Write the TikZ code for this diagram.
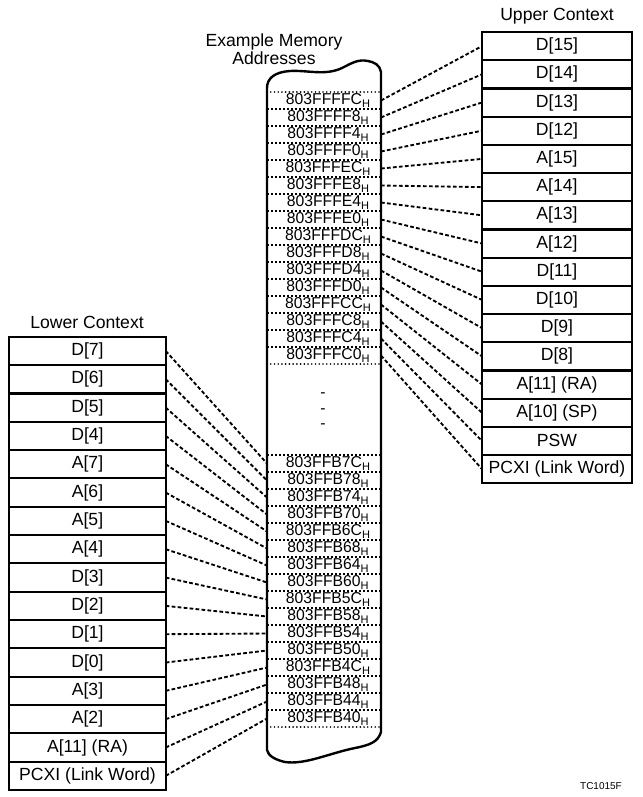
\documentclass[tikz,border=0pt]{standalone}
\usepackage{fontspec}
\setmainfont{Liberation Sans}
\begin{document}
\begin{tikzpicture}[x=0.75pt,y=-0.75pt,
  every node/.style={inner sep=0pt, outer sep=0pt},
  ctx/.style={draw, line width=1.6pt, font=\fontsize{13.2}{15}\selectfont, minimum height=21.2pt},
  upbox/.style={ctx, minimum width=112.5pt},
  lowbox/.style={ctx, minimum width=117.3pt},
  addr/.style={minimum width=85.5pt, minimum height=12.75pt, font=\fontsize{11.8}{13}\selectfont},
  dots/.style={font=\fontsize{11.8}{13}\selectfont},
  title/.style={font=\fontsize{13.2}{13.5}\selectfont, align=center},
  link/.style={line width=1.4pt, dash pattern=on 2.8pt off 1.7pt},
  rowsep/.style={line width=0.9pt, dash pattern=on 1.8pt off 1.2pt},
  bound/.style={line width=1.4pt, line cap=round, dash pattern=on 0pt off 2.8pt},
  column/.style={line width=1.8pt, line join=round}
]
\useasboundingbox (0,0) rectangle (643,797);

% memory column outline
\draw[column] (267,88) .. controls (267,78) and (275,72) .. (290,71)
  .. controls (308,70) and (325,76) .. (342,68)
  .. controls (352,63) and (358,59) .. (368,61)
  .. controls (374,62) and (380,65) .. (381,72)
  -- (381,732)
  .. controls (378,742) and (370,745) .. (355,748)
  .. controls (330,753) and (305,765) .. (285,762)
  .. controls (276,760) and (268,756) .. (267,750) -- cycle;

% titles
\node[title] (ema) at (274,49) {Example Memory\\Addresses};
\node[title] (uc) at (557,16) {Upper Context};
\node[title] (lc) at (87,322) {Lower Context};
\node[font=\fontsize{7.5}{9}\selectfont] (tc) at (601,786) {TC1015F};

% upper address rows
\foreach \a [count=\i from 0] in {FFFFC,FFFF8,FFFF4,FFFF0,FFFEC,FFFE8,FFFE4,FFFE0,FFFDC,FFFD8,FFFD4,FFFD0,FFFCC,FFFC8,FFFC4,FFFC0} {
  \node[addr] (ur\i) at (324,{100.5+17*\i}) {803\a\rlap{\textsubscript{H}}};
}
\foreach \i in {0,...,14} \draw[rowsep] (ur\i.south west) -- (ur\i.south east);
\draw[bound] (ur0.north west) -- (ur0.north east);
\draw[bound] (ur15.south west) -- (ur15.south east);

% lower address rows
\foreach \a [count=\i from 0] in {FFB7C,FFB78,FFB74,FFB70,FFB6C,FFB68,FFB64,FFB60,FFB5C,FFB58,FFB54,FFB50,FFB4C,FFB48,FFB44,FFB40} {
  \node[addr] (lr\i) at (324,{463.5+17*\i}) {803\a\rlap{\textsubscript{H}}};
}
\draw[rowsep] (lr0.north west) -- (lr0.north east);
\foreach \i in {0,...,14} \draw[rowsep] (lr\i.south west) -- (lr\i.south east);
\draw[bound] (lr15.south west) -- (lr15.south east);

% ellipsis
\node[dots] (e1) at (323,395) {-};
\node[dots] (e2) at (323,411) {-};
\node[dots] (e3) at (323,426) {-};

% upper context boxes
\foreach \lab [count=\i from 0] in {{D[15]},{D[14]},{D[13]},{D[12]},{A[15]},{A[14]},{A[13]},{A[12]},{D[11]},{D[10]},{D[9]},{D[8]},{A[11] (RA)},{A[10] (SP)},{PSW},{PCXI (Link Word)}} {
  \node[upbox] (ub\i) at (557,{46.1+28.2*\i}) {\lab};
}
% lower context boxes
\foreach \lab [count=\i from 0] in {{D[7]},{D[6]},{D[5]},{D[4]},{A[7]},{A[6]},{A[5]},{A[4]},{D[3]},{D[2]},{D[1]},{D[0]},{A[3]},{A[2]},{A[11] (RA)},{PCXI (Link Word)}} {
  \node[lowbox] (lb\i) at (87.5,{350.9+28.33*\i}) {\lab};
}

% connectors
\foreach \i in {0,...,15} \draw[link] (ur\i.east) -- (ub\i.west);
\foreach \i in {0,...,15} \draw[link] (lb\i.east) -- (lr\i.west);
\end{tikzpicture}
\end{document}
